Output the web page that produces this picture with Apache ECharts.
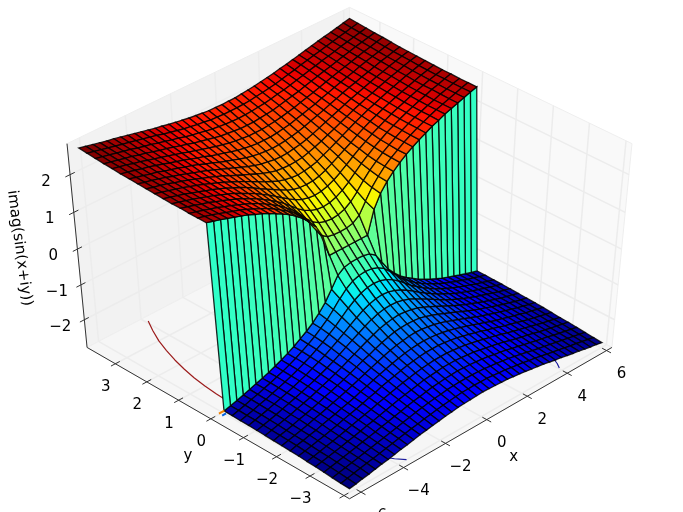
<!DOCTYPE html>
<html><head><meta charset="utf-8">
<style>html,body{margin:0;padding:0;background:#fff}#c{width:683px;height:512px}</style>
<script src="https://cdn.jsdelivr.net/npm/echarts@6/dist/echarts.min.js"></script>
</head><body><div id="c"></div>
<script>
const xValues=[-6.28,-5.98,-5.68,-5.38,-5.08,-4.78,-4.48,-4.18,-3.88,-3.58,-3.28,-2.98,-2.68,-2.38,-2.08,-1.78,-1.48,-1.18,-0.88,-0.58,-0.28,0.02,0.32,0.62,0.92,1.22,1.52,1.82,2.12,2.42,2.72,3.02,3.32,3.62,3.92,4.22,4.52,4.82,5.12,5.42,5.72,6.02];
const yValues=[-4,-3.75,-3.5,-3.25,-3,-2.75,-2.5,-2.25,-2,-1.75,-1.5,-1.25,-1,-0.75,-0.5,-0.25,0,0.25,0.5,0.75,1,1.25,1.5,1.75,2,2.25,2.5,2.75,3,3.25,3.5,3.75];
// height magnitude read per |x| step (rows) and |y| step (columns); sign follows the side of the jump
const zRows=[
[0,.25,.48,.69,.88,1.05,1.19,1.33,1.44,1.55,1.65,1.74,1.82,1.89,1.97,2.03,2.09],
[0,.26,.5,.71,.9,1.06,1.21,1.34,1.45,1.56,1.65,1.74,1.82,1.9,1.97,2.04,2.1],
[0,.3,.56,.77,.95,1.1,1.24,1.36,1.48,1.58,1.67,1.76,1.84,1.91,1.98,2.04,2.11],
[0,.43,.68,.87,1.03,1.17,1.29,1.41,1.51,1.61,1.7,1.78,1.86,1.93,1.99,2.06,2.12],
[.62,.72,.86,1,1.14,1.26,1.37,1.47,1.56,1.65,1.73,1.81,1.88,1.95,2.02,2.08,2.13],
[.96,1,1.07,1.16,1.26,1.36,1.45,1.54,1.62,1.7,1.78,1.85,1.92,1.98,2.04,2.1,2.16],
[1.19,1.21,1.26,1.32,1.39,1.46,1.54,1.62,1.69,1.76,1.83,1.89,1.96,2.02,2.07,2.13,2.18],
[1.37,1.39,1.41,1.45,1.51,1.56,1.63,1.69,1.76,1.82,1.88,1.94,2,2.05,2.1,2.16,2.21],
[1.52,1.53,1.55,1.58,1.62,1.67,1.72,1.77,1.83,1.88,1.93,1.99,2.04,2.09,2.14,2.19,2.24],
[1.65,1.65,1.67,1.69,1.73,1.77,1.81,1.85,1.9,1.95,2,2.04,2.09,2.14,2.18,2.23,2.27],
[1.76,1.77,1.78,1.8,1.82,1.86,1.89,1.93,1.97,2.01,2.05,2.09,2.14,2.18,2.22,2.26,2.3],
[1.86,1.87,1.88,1.89,1.91,1.94,1.97,2,2.04,2.08,2.11,2.15,2.19,2.23,2.27,2.3,2.34],
[1.95,1.96,1.97,1.98,2,2.02,2.04,2.07,2.1,2.14,2.17,2.2,2.24,2.27,2.31,2.34,2.38],
[2.04,2.04,2.05,2.06,2.07,2.09,2.11,2.13,2.16,2.19,2.22,2.25,2.28,2.32,2.35,2.38,2.41],
[2.11,2.12,2.12,2.13,2.14,2.16,2.18,2.2,2.22,2.25,2.27,2.3,2.33,2.36,2.39,2.42,2.45],
[2.19,2.19,2.19,2.2,2.21,2.22,2.24,2.26,2.28,2.3,2.33,2.35,2.38,2.4,2.43,2.46,2.49],
[2.25,2.25,2.25,2.26,2.27,2.28,2.3,2.32,2.33,2.35,2.38,2.4,2.42,2.45,2.47,2.5,2.52],
[2.31,2.31,2.32,2.33,2.33,2.34,2.36,2.37,2.39,2.41,2.43,2.45,2.47,2.49,2.51,2.53,2.56],
[2.37,2.37,2.37,2.38,2.39,2.4,2.41,2.43,2.44,2.45,2.47,2.49,2.51,2.53,2.55,2.57,2.6],
[2.43,2.43,2.43,2.44,2.44,2.45,2.46,2.48,2.49,2.5,2.52,2.54,2.55,2.57,2.59,2.61,2.63],
[2.48,2.48,2.48,2.49,2.49,2.5,2.51,2.52,2.53,2.54,2.56,2.58,2.59,2.61,2.63,2.65,2.67],
[2.53,2.53,2.53,2.54,2.54,2.55,2.56,2.57,2.58,2.59,2.6,2.62,2.63,2.65,2.67,2.69,2.7]
];
const xTicks=[-6,-4,-2,0,2,4,6];
const yTicks=[-4,-3,-2,-1,0,1,2,3];
const yLabelled=[-3,-2,-1,0,1,2,3];
const zTicks=[-2,-1,0,1,2];
const redContourX=[-3.9,-4.2,-4.5,-4.73,-4.93,-5.09,-5.22,-5.31,-5.37,-5.4];
const redContourY=[3.75,3.4,3,2.6,2.2,1.8,1.4,1,0.6,0.2];
const blueContourLeftX=[-3.6,-3.85,-4.2];
const blueContourLeftY=[-4,-3.8,-3.4];
const blueContourRightX=[4.05,4.2,4.45];
const blueContourRightY=[-3.9,-3.75,-3.4];
const orangeMarkX=[-6.13,-5.88];
const orangeMarkY=[0.02,0.02];
const blueMarkX=[-6.13,-5.95];
const blueMarkY=[-0.08,-0.08];

const view={elev:45,azim:225,dist:10,cx:349.5,cy:249.3,sx:3694,sy:2763};
const lim={x0:-6.28,x1:6.02,y0:-4,y1:3.75,z0:-2.7,z1:2.69};
const W=683,H=512,FONT='15px "DejaVu Sans"';
const e=view.elev*Math.PI/180,a=view.azim*Math.PI/180;
const n=[Math.cos(a)*Math.cos(e),Math.sin(a)*Math.cos(e),Math.sin(e)];
const u=[-Math.sin(a),Math.cos(a),0];
const v=[n[1]*u[2]-n[2]*u[1],n[2]*u[0]-n[0]*u[2],n[0]*u[1]-n[1]*u[0]];
function proj(x,y,z){
  const P=[(x-lim.x0)/(lim.x1-lim.x0)-.5,(y-lim.y0)/(lim.y1-lim.y0)-.5,(z-lim.z0)/(lim.z1-lim.z0)-.5];
  const dot=(A,B)=>A[0]*B[0]+A[1]*B[1]+A[2]*B[2];
  const w=view.dist-dot(n,P);
  return [dot(u,P)/w,dot(v,P)/w,w];
}
const ext={x:(lim.x1-lim.x0)/48,y:(lim.y1-lim.y0)/48,z:(lim.z1-lim.z0)/48};
const bx0=lim.x0-ext.x,bx1=lim.x1+ext.x,by0=lim.y0-ext.y,by1=lim.y1+ext.y,bz0=lim.z0-ext.z,bz1=lim.z1+ext.z;

function zAt(i,j){
  const t=zRows[Math.round(Math.abs(xValues[i])/.3)][Math.round(Math.abs(yValues[j])/.25)];
  return yValues[j]>=0?t:-t;
}
function jet(t){
  const c=(p)=>Math.max(0,Math.min(1,p));
  const r=c(t<.35?0:t<.66?(t-.35)/.31:t<.89?1:1-(t-.89)/.11*.5);
  const g=c(t<.125?0:t<.375?(t-.125)/.25:t<.64?1:t<.91?1-(t-.64)/.27:0);
  const b=c(t<.11?.5+t/.11*.5:t<.34?1:t<.65?1-(t-.34)/.31:0);
  return `rgb(${Math.round(r*255)},${Math.round(g*255)},${Math.round(b*255)})`;
}
// surface cells
const cells=[];
for(let i=0;i<xValues.length-1;i++)for(let j=0;j<yValues.length-1;j++){
  const c=[[i,j],[i+1,j],[i+1,j+1],[i,j+1]].map(([p,q])=>[xValues[p],yValues[q],zAt(p,q)]);
  const val=(2*c[0][2]+c[1][2]+c[2][2]+c[3][2])/5;
  const pts=c.map(q=>proj(q[0],q[1],q[2]));
  cells.push({pts,val,depth:(pts[0][2]+pts[1][2]+pts[2][2]+pts[3][2])/4});
}
cells.sort((A,B)=>B.depth-A.depth);
const vMin=Math.min(...cells.map(c=>c.val)),vMax=Math.max(...cells.map(c=>c.val));
// panes
const panes=[
 {pts:[[bx0,by1,bz0],[bx1,by1,bz0],[bx1,by1,bz1],[bx0,by1,bz1]],fill:'#f2f2f2'},
 {pts:[[bx1,by0,bz0],[bx1,by1,bz0],[bx1,by1,bz1],[bx1,by0,bz1]],fill:'#f9f9f9'},
 {pts:[[bx0,by0,bz0],[bx1,by0,bz0],[bx1,by1,bz0],[bx0,by1,bz0]],fill:'#f6f6f6'}
].map(p=>({pts:p.pts.map(q=>proj(q[0],q[1],q[2])),fill:p.fill}));
// line segments
const segs=[];
function seg(A,B,color,width){segs.push({a:proj(A[0],A[1],A[2]),b:proj(B[0],B[1],B[2]),color,width});}
const GRID='#ececec',GW=1.5;
xTicks.forEach(t=>{seg([t,by0,bz0],[t,by1,bz0],GRID,GW);seg([t,by1,bz0],[t,by1,bz1],GRID,GW);});
yTicks.forEach(t=>{seg([bx0,t,bz0],[bx1,t,bz0],GRID,GW);seg([bx1,t,bz0],[bx1,t,bz1],GRID,GW);});
zTicks.forEach(t=>{seg([bx0,by1,t],[bx1,by1,t],GRID,GW);seg([bx1,by0,t],[bx1,by1,t],GRID,GW);});
const AX='#333',AW=1;
seg([bx0,by0,bz0],[bx1,by0,bz0],AX,AW);
seg([bx0,by0,bz0],[bx0,by1,bz0],AX,AW);
seg([bx0,by1,bz0],[bx0,by1,bz1],AX,AW);
const dx=(lim.x1-lim.x0)/12,dy=(lim.y1-lim.y0)/12;
xTicks.forEach(t=>seg([t,by0-.2*dy,bz0],[t,by0+.2*dy,bz0],AX,AW));
yTicks.forEach(t=>seg([bx0-.2*dx,t,bz0],[bx0+.2*dx,t,bz0],AX,AW));
zTicks.forEach(t=>seg([bx0-.2*dx,by1,t],[bx0+.2*dx,by1,t],AX,AW));
// labels
const labels=[];
const mn=s=>String(s).replace('-','\u2212');
xTicks.forEach(t=>{const p=proj(t,by0,bz0);labels.push({p,dx:15,dy:23.5,text:mn(t)});});
yLabelled.forEach(t=>{const p=proj(bx0,t,bz0);labels.push({p,dx:-9.5,dy:23.5,text:mn(t)});});
zTicks.forEach(t=>{const p=proj(bx0,by1,t);labels.push({p,dx:-24,dy:7,text:mn(t)});});
labels.push({p:proj(0,by0,bz0),dx:27,dy:37,text:'x'});
labels.push({p:proj(bx0,0,bz0),dx:-23,dy:37,text:'y'});
labels.push({p:proj(bx0,by1,0),dx:-58,dy:-1,text:'imag(sin(x+iy))',rot:-1.44});

const floorLine=(xs,ys)=>xs.map((x,i)=>{const p=proj(x,ys[i],bz0);return [p[0],p[1]];});
const lineSeries=(d,color,w,z)=>({type:'line',data:d,symbol:'none',silent:true,animation:false,lineStyle:{color,width:w},z:z||3});
const polyItem=(pts,api,style)=>({type:'polygon',shape:{points:pts.map(q=>api.coord([q[0],q[1]]))},style});
const base={type:'custom',coordinateSystem:'cartesian2d',silent:true,animation:false,progressive:0,clip:false};
const chart=echarts.init(document.getElementById('c'),null,{renderer:'canvas',width:W,height:H});
chart.setOption({
  animation:false,
  grid:{left:0,right:0,top:0,bottom:0},
  xAxis:{type:'value',show:false,min:-view.cx/view.sx,max:(W-view.cx)/view.sx},
  yAxis:{type:'value',show:false,min:-(H-view.cy)/view.sy,max:view.cy/view.sy},
  series:[
    Object.assign({},base,{z:1,data:panes.map(p=>[p.pts[0][0],p.pts[0][1]]),
      renderItem:(o,api)=>polyItem(panes[o.dataIndex].pts,api,{fill:panes[o.dataIndex].fill,stroke:'#eeeeee',lineWidth:1})}),
    Object.assign({},base,{z:2,data:segs.map(s=>[s.a[0],s.a[1]]),
      renderItem:(o,api)=>{const s=segs[o.dataIndex],A=api.coord([s.a[0],s.a[1]]),B=api.coord([s.b[0],s.b[1]]);
        return {type:'line',shape:{x1:A[0],y1:A[1],x2:B[0],y2:B[1]},style:{stroke:s.color,lineWidth:s.width}};}}),
    lineSeries(floorLine(redContourX,redContourY),'#9c1c1c',1.2),
    lineSeries(floorLine(blueContourLeftX,blueContourLeftY),'#1a1a9c',1.2),
    lineSeries(floorLine(blueContourRightX,blueContourRightY),'#1a1a9c',1.2),
    lineSeries(floorLine(orangeMarkX,orangeMarkY),'#f08000',2,6),
    lineSeries(floorLine(blueMarkX,blueMarkY),'#0060e0',2,6),
    Object.assign({},base,{z:4,data:cells.map(c=>[c.pts[0][0],c.pts[0][1]]),
      renderItem:(o,api)=>{const c=cells[o.dataIndex];
        return polyItem(c.pts,api,{fill:jet((c.val-vMin)/(vMax-vMin)),stroke:'rgba(0,0,0,0.85)',lineWidth:1.3});}}),
    Object.assign({},base,{z:5,data:labels.map(l=>[l.p[0],l.p[1]]),
      renderItem:(o,api)=>{const l=labels[o.dataIndex],A=api.coord([l.p[0],l.p[1]]);
        return {type:'text',x:A[0]+l.dx,y:A[1]+l.dy,rotation:l.rot||0,
          style:{text:l.text,font:FONT,fill:'#000',align:'center',verticalAlign:'middle'}};}})
  ]
});
</script></body></html>
